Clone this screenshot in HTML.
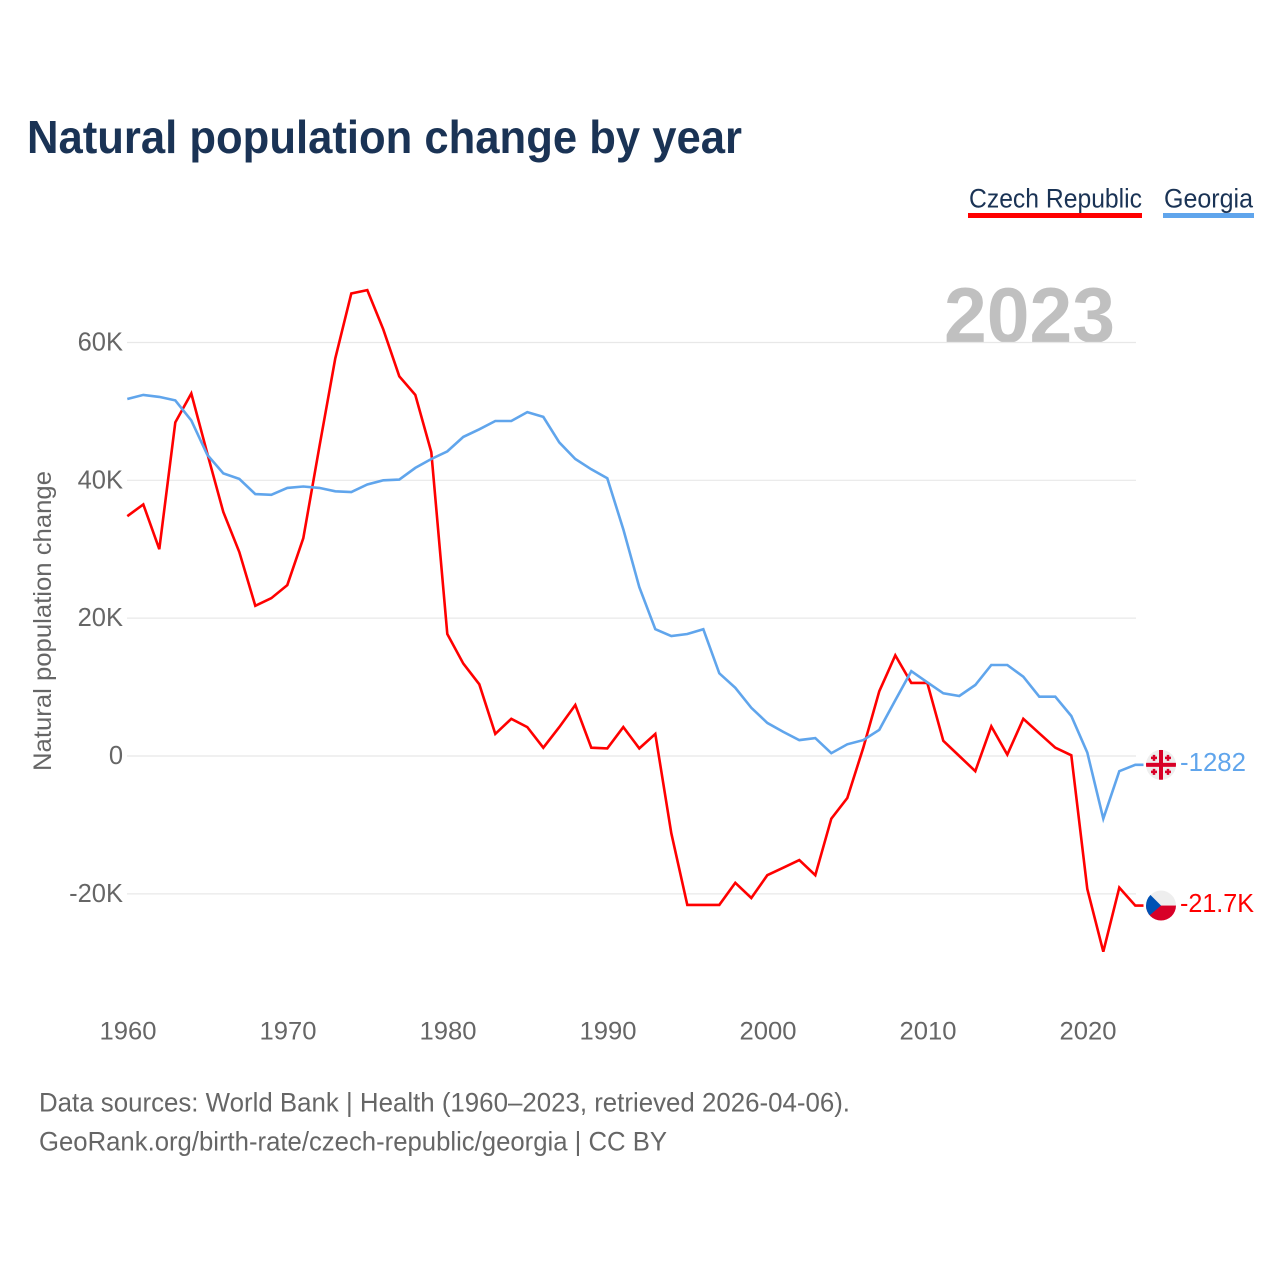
<!DOCTYPE html>
<html lang="en">
<head>
<meta charset="utf-8">
<title>Natural population change by year</title>
<style>
html,body{margin:0;padding:0;background:#fff;width:1280px;height:1280px;overflow:hidden}
svg{display:block}
text{font-family:"Liberation Sans",sans-serif}
</style>
</head>
<body>
<svg id="chart" width="1280" height="1280" viewBox="0 0 1280 1280" xmlns="http://www.w3.org/2000/svg">
  <defs>
    <clipPath id="clip-ge"><circle cx="0" cy="0" r="15"></circle></clipPath>
    <clipPath id="clip-cz"><circle cx="0" cy="0" r="15"></circle></clipPath>
  </defs>
  <text x="27" y="153" font-size="46" font-weight="700" fill="#1a3355" textLength="715" lengthAdjust="spacingAndGlyphs">Natural population change by year</text>

  <g>
    <text x="969" y="207.500" font-size="27" fill="#1a3355" textLength="173" lengthAdjust="spacingAndGlyphs">Czech Republic</text>
    <rect x="968" y="213" width="174" height="5" fill="#ff0000"></rect>
  </g>
  <g>
    <text x="1164" y="207.500" font-size="27" fill="#1a3355" textLength="89" lengthAdjust="spacingAndGlyphs">Georgia</text>
    <rect x="1163" y="213" width="91" height="5" fill="#60a5ec"></rect>
  </g>

  <text x="944" y="342" font-size="78" font-weight="700" fill="#c0c0c0" textLength="171" lengthAdjust="spacingAndGlyphs">2023</text>

  <g id="grid"></g>
  <g id="y-ticks"></g>
  <g id="x-ticks"></g>

  <text transform="translate(51,771) rotate(-90)" font-size="25" fill="#666666" textLength="300" lengthAdjust="spacingAndGlyphs">Natural population change</text>

  <g id="series"></g>

  <g id="flag-ge">
    <g clip-path="url(#clip-ge)">
      <rect x="-15" y="-15" width="30" height="30" fill="#eeeeee"></rect>
      <rect x="-2" y="-15" width="4" height="30" fill="#d80027"></rect>
      <rect x="-15" y="-2" width="30" height="4" fill="#d80027"></rect>
      <path d="M-7 -10v6M-10 -7h6M7 -10v6M4 -7h6M-7 4v6M-10 7h6M7 4v6M4 7h6" stroke="#d80027" stroke-width="2.500" fill="none"></path>
    </g>
  </g>
  <g id="flag-cz">
    <g clip-path="url(#clip-cz)">
      <rect x="-15" y="-15" width="30" height="15" fill="#eeeeee"></rect>
      <rect x="-15" y="0" width="30" height="15" fill="#d80027"></rect>
      <path d="M-15 -15L0 0L-15 13Z" fill="#0052b4"></path>
    </g>
  </g>
  <text id="value-ge" font-size="26" fill="#60a5ec"></text>
  <text id="value-cz" font-size="26" fill="#ff0000"></text>

  <text x="39" y="1111.500" font-size="27" fill="#666666" textLength="811" lengthAdjust="spacingAndGlyphs">Data sources: World Bank | Health (1960–2023, retrieved 2026-04-06).</text>
  <text x="39" y="1150.500" font-size="27" fill="#666666" textLength="628" lengthAdjust="spacingAndGlyphs">GeoRank.org/birth-rate/czech-republic/georgia | CC BY</text>
</svg>
<script>
const startYear = 1960;
const czechValues = [34.8,36.5,30.0,48.4,52.6,43.9,35.4,29.6,21.8,22.9,24.8,31.6,44.8,57.7,67.1,67.6,61.9,55.1,52.4,44.1,17.7,13.4,10.4,3.2,5.4,4.2,1.2,4.2,7.4,1.2,1.1,4.2,1.1,3.2,-11.2,-21.6,-21.6,-21.6,-18.4,-20.6,-17.3,-16.2,-15.1,-17.3,-9.1,-6.1,1.2,9.4,14.6,10.6,10.6,2.2,0.0,-2.2,4.3,0.2,5.4,3.3,1.2,0.1,-19.3,-28.4,-19.1,-21.7];
const georgiaValues = [51.8,52.4,52.1,51.6,48.7,43.7,41.0,40.2,38.0,37.9,38.9,39.1,38.9,38.4,38.3,39.4,40.0,40.1,41.8,43.1,44.2,46.3,47.4,48.6,48.6,49.9,49.2,45.5,43.1,41.6,40.3,32.9,24.5,18.4,17.4,17.7,18.4,12.0,9.9,7.0,4.8,3.5,2.3,2.6,0.4,1.7,2.3,3.8,8.1,12.3,10.7,9.1,8.7,10.3,13.2,13.2,11.5,8.6,8.6,5.8,0.5,-9.1,-2.2,-1.282];
const yTickValues = [60,40,20,0,-20];
const yTickLabels = ["60K","40K","20K","0","-20K"];
const xTickYears = [1960,1970,1980,1990,2000,2010,2020];
const czechEndLabel = "-21.7K";
const georgiaEndLabel = "-1282";

const NS = "http://www.w3.org/2000/svg";
const xScale = function (year) { return 127.3 + (year - startYear) * 16.0; };
const yScale = function (k) { return 756 - k * 6.892; };

function mk(tag, parent) {
  const el = document.createElementNS(NS, tag);
  parent.appendChild(el);
  return el;
}

const grid = document.getElementById("grid");
const yTicks = document.getElementById("y-ticks");
const xTicks = document.getElementById("x-ticks");
const seriesGroup = document.getElementById("series");

yTickValues.forEach(function (v, i) {
  const line = mk("line", grid);
  
  
  line.setAttribute("x1", 127);
  line.setAttribute("x2", 1136);
  line.setAttribute("y1", yScale(v));
  line.setAttribute("y2", yScale(v));
  line.setAttribute("stroke", "#e8e8e8");
  line.setAttribute("stroke-width", "1.2");

  const t = mk("text", yTicks);
  
  
  t.setAttribute("x", 123);
  t.setAttribute("y", yScale(v) + 8);
  t.setAttribute("text-anchor", "end");
  t.setAttribute("font-size", "25.500");
  t.setAttribute("fill", "#666666");
  t.textContent = yTickLabels[i];
});

xTickYears.forEach(function (yr) {
  const t = mk("text", xTicks);
  
  
  t.setAttribute("x", xScale(yr) + 0.700);
  t.setAttribute("y", 1039.500);
  t.setAttribute("text-anchor", "middle");
  t.setAttribute("font-size", "25");
  t.setAttribute("fill", "#666666");
  t.setAttribute("textLength", "57");
  t.setAttribute("lengthAdjust", "spacingAndGlyphs");
  t.textContent = yr;
});

function linePoints(values) {
  const pts = values.map(function (v, i) {
    return xScale(startYear + i).toFixed(1) + "," + yScale(v).toFixed(1);
  });
  const last = values[values.length - 1];
  pts.push((xScale(startYear + values.length - 1) + 8.2).toFixed(1) + "," + yScale(last).toFixed(1));
  return pts.join(" ");
}

const redLine = mk("polyline", seriesGroup);


redLine.setAttribute("points", linePoints(czechValues));
redLine.setAttribute("fill", "none");
redLine.setAttribute("stroke", "#ff0000");
redLine.setAttribute("stroke-width", "2.6");

const blueLine = mk("polyline", seriesGroup);


blueLine.setAttribute("points", linePoints(georgiaValues));
blueLine.setAttribute("fill", "none");
blueLine.setAttribute("stroke", "#60a5ec");
blueLine.setAttribute("stroke-width", "2.6");

const czY = yScale(czechValues[czechValues.length - 1]);
const geY = yScale(georgiaValues[georgiaValues.length - 1]);
document.getElementById("flag-cz").setAttribute("transform", "translate(1161," + czY + ")");
document.getElementById("flag-ge").setAttribute("transform", "translate(1161," + geY + ")");

const vGe = document.getElementById("value-ge");
vGe.setAttribute("x", 1180);
vGe.setAttribute("y", geY + 6.2);
vGe.textContent = georgiaEndLabel;
vGe.setAttribute("textLength", "66");
vGe.setAttribute("lengthAdjust", "spacingAndGlyphs");

const vCz = document.getElementById("value-cz");
vCz.setAttribute("x", 1180);
vCz.setAttribute("y", czY + 6.2);
vCz.textContent = czechEndLabel;
vCz.setAttribute("textLength", "74");
vCz.setAttribute("lengthAdjust", "spacingAndGlyphs");
</script>
</body>
</html>
